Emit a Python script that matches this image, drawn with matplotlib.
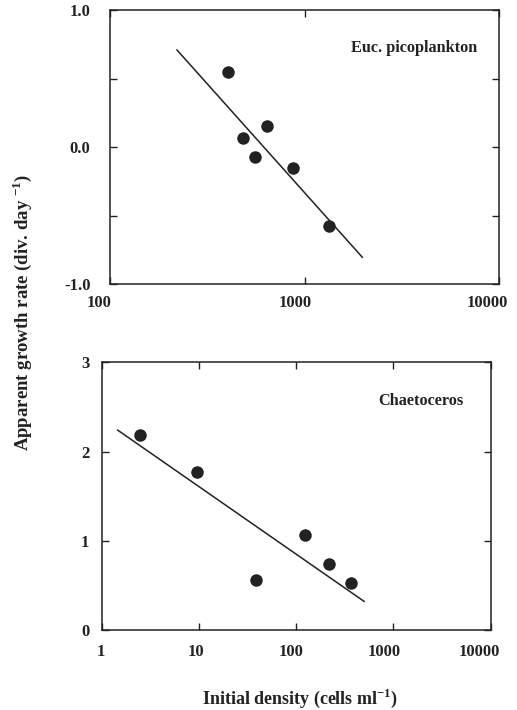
import matplotlib
matplotlib.use("Agg")
import matplotlib.pyplot as plt
import matplotlib.transforms as mtransforms
import numpy as np

plt.rcParams['font.family'] = ['Liberation Serif', 'DejaVu Serif']
plt.rcParams['font.weight'] = 'bold'
plt.rcParams['mathtext.fontset'] = 'custom'
plt.rcParams['mathtext.rm'] = 'Liberation Serif:bold'
plt.rcParams['mathtext.bf'] = 'Liberation Serif:bold'

# Top panel: Euc. picoplankton
euc_density = [405, 485, 640, 555, 870, 1334]
euc_rate = [0.545, 0.068, 0.155, -0.071, -0.151, -0.574]
euc_fit_x = [221, 1983]
euc_fit_y = [0.708, -0.805]

# Bottom panel: Chaetoceros
cha_density = [2.49, 9.5, 38.8, 124, 215, 362]
cha_rate = [2.18, 1.77, 0.557, 1.07, 0.737, 0.523]
cha_fit_x = [1.46, 500]
cha_fit_y = [2.24, 0.32]

top_xticks = [100, 1000, 10000]
top_xlabels = ['100', '1000', '10000']
top_yticks = [-1.0, -0.5, 0.0, 0.5, 1.0]
top_ylabels = ['-1.0', '', '0.0', '', '1.0']
bot_xticks = [1, 10, 100, 1000, 10000]
bot_xlabels = ['1', '10', '100', '1000', '10000']
bot_yticks = [0, 1, 2, 3]
bot_ylabels = ['0', '1', '2', '3']

# horizontal shift (px) of x tick labels, as printed in the original
top_label_shift = [-11, -9, -12]
bot_label_shift = [-1, -3, -5, -9, -11]

ink = '#222222'
fig = plt.figure(figsize=(5.17, 7.10), dpi=100)
ax1 = fig.add_axes([0.2128, 0.600, 0.7524, 0.3859])
ax2 = fig.add_axes([0.1967, 0.1127, 0.7524, 0.3770])

def style(ax, xt, xl, yt, yl, ypad, xpad, shifts):
    ax.set_xscale('log')
    ax.set_xticks(xt)
    ax.set_xticklabels(xl)
    ax.set_yticks(yt)
    ax.set_yticklabels(yl)
    ax.minorticks_off()
    ax.tick_params(direction='in', top=True, right=True, length=5, width=1,
                   color=ink, labelsize=12, labelcolor=ink)
    ax.tick_params(axis='y', pad=ypad)
    ax.tick_params(axis='x', pad=xpad)
    for lab in ax.get_xticklabels() + ax.get_yticklabels():
        lab.set_fontweight('bold')
    for tick, dx in zip(ax.xaxis.get_major_ticks(), shifts):
        off = mtransforms.ScaledTranslation(dx / 100.0, 0, fig.dpi_scale_trans)
        tick.label1.set_transform(tick.label1.get_transform() + off)
    for s in ax.spines.values():
        s.set_color(ink)
        s.set_linewidth(1.1)

ax1.plot(euc_fit_x, euc_fit_y, color=ink, lw=1.1)
ax1.plot(euc_density, euc_rate, 'o', color=ink, ms=9, mec='none')
ax1.set_xlim(100, 10000)
ax1.set_ylim(-1.0, 1.0)
style(ax1, top_xticks, top_xlabels, top_yticks, top_ylabels, 14, 8, top_label_shift)
ax1.text(0.945, 0.86, 'Euc. picoplankton', transform=ax1.transAxes,
         ha='right', va='center', fontsize=11.7, fontweight='bold', color=ink)

ax2.plot(cha_fit_x, cha_fit_y, color=ink, lw=1.1)
ax2.plot(cha_density, cha_rate, 'o', color=ink, ms=9, mec='none')
ax2.set_xlim(1, 10000)
ax2.set_ylim(0, 3)
style(ax2, bot_xticks, bot_xlabels, bot_yticks, bot_ylabels, 9, 10, bot_label_shift)
ax2.text(0.93, 0.855, 'Chaetoceros', transform=ax2.transAxes,
         ha='right', va='center', fontsize=11.7, fontweight='bold', color=ink)

fig.text(0.043, 0.56, 'Apparent growth rate (div. day $^{\\mathbf{-1}}$)',
         rotation=90, ha='center', va='center', fontsize=13.5, fontweight='bold', color=ink)
fig.text(0.581, 0.017, 'Initial density (cells ml$^{\\mathbf{-1}}$)',
         ha='center', va='center', fontsize=13, fontweight='bold', color=ink)

fig.savefig('out.png', dpi=100)
